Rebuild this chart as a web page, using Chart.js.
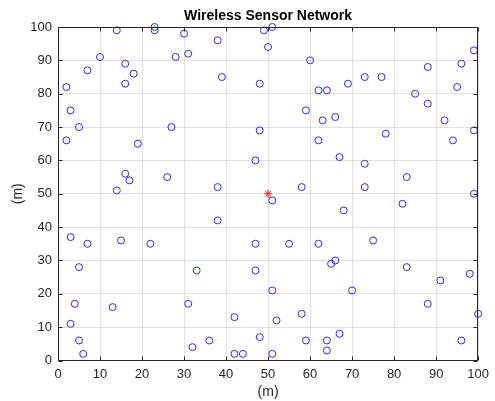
<!DOCTYPE html>
<html>
<head>
<meta charset="utf-8">
<script src="https://cdn.jsdelivr.net/npm/chart.js@4"></script>
<style>
  html, body { margin: 0; padding: 0; background: #ffffff; }
  canvas { display: block; }
</style>
</head>
<body>
<canvas id="wsn" width="495" height="401"></canvas>
<script>
// Sensor node positions (m)
const sensorX = [23, 23, 14, 30, 49, 51, 38, 50, 31, 28,
                 10, 16, 7, 18, 16, 2, 39, 48, 60, 62,
                 64, 69, 73, 77, 88, 96, 99, 95, 85, 88,
                 92, 99, 94, 78, 59, 63, 66, 62, 67, 73,
                 73, 83, 82, 99, 68, 75, 58, 51, 47, 48,
                 27, 5, 3, 2, 19, 16, 17, 14, 26, 38,
                 38, 3, 7, 15, 22, 47, 55, 62, 66, 65,
                 47, 33, 5, 83, 91, 98, 70, 51, 31, 4,
                 13, 3, 5, 6, 32, 36, 42, 42, 44, 48,
                 51, 52, 58, 59, 64, 64, 67, 88, 96, 100];
const sensorY = [100, 99, 99, 98, 99, 100, 96, 94, 92, 91,
                 91, 89, 87, 86, 83, 82, 85, 83, 90, 81,
                 81, 83, 85, 85, 88, 89, 93, 82, 80, 77,
                 72, 69, 66, 68, 75, 72, 73, 66, 61, 59,
                 52, 55, 47, 50, 45, 36, 52, 48, 60, 69,
                 70, 70, 75, 66, 65, 56, 54, 51, 55, 52,
                 42, 37, 35, 36, 35, 35, 35, 35, 30, 29,
                 27, 27, 28, 28, 24, 26, 21, 21, 17, 17,
                 16, 11, 6, 2, 4, 6, 13, 2, 2, 7,
                 2, 12, 14, 6, 6, 3, 8, 17, 6, 14];

// Sink (base station) position
const sinkX = [50];
const sinkY = [50];

// Axis ticks
const tickValues = [0, 10, 20, 30, 40, 50, 60, 70, 80, 90, 100];

const chartTitle = 'Wireless Sensor Network';
const xLabel = '(m)';
const yLabel = '(m)';

const FONT = "'Liberation Sans', Arial, Helvetica, sans-serif";
const INK = '#262626';

const toPoints = (xs, ys) => xs.map((x, i) => ({ x: x, y: ys[i] }));

// Box around the axes, inward tick marks and the title above the plot
const axesFrame = {
  id: 'axesFrame',
  afterDraw(chart) {
    const { ctx, chartArea: a, scales } = chart;
    const L = Math.round(a.left) + 0.5, R = Math.round(a.right) - 0.5;
    const T = Math.round(a.top) + 0.5, B = Math.round(a.bottom) - 0.5;
    const tl = 4;
    ctx.save();
    ctx.strokeStyle = INK;
    ctx.lineWidth = 1;
    ctx.beginPath();
    ctx.rect(L, T, R - L, B - T);
    tickValues.forEach(v => {
      const px = Math.round(scales.x.getPixelForValue(v)) + 0.5;
      ctx.moveTo(px, B); ctx.lineTo(px, B - tl);
      ctx.moveTo(px, T); ctx.lineTo(px, T + tl);
      const py = Math.round(scales.y.getPixelForValue(v)) + 0.5;
      ctx.moveTo(L, py); ctx.lineTo(L + tl, py);
      ctx.moveTo(R, py); ctx.lineTo(R - tl, py);
    });
    ctx.stroke();
    ctx.fillStyle = '#000000';
    ctx.font = 'bold 14px ' + FONT;
    ctx.textAlign = 'center';
    ctx.textBaseline = 'middle';
    ctx.fillText(chartTitle, (a.left + a.right) / 2, 16);
    ctx.restore();
  }
};

new Chart(document.getElementById('wsn'), {
  type: 'scatter',
  data: {
    datasets: [
      {
        label: 'Sensor nodes',
        data: toPoints(sensorX, sensorY),
        pointStyle: 'circle',
        pointRadius: 3.5,
        borderWidth: 1,
        borderColor: 'rgb(45, 45, 200)',
        backgroundColor: 'rgba(0,0,0,0)',
        clip: false
      },
      {
        label: 'Sink',
        data: toPoints(sinkX, sinkY),
        pointStyle: 'star',
        pointRadius: 4,
        borderWidth: 1,
        borderColor: 'rgb(235, 30, 30)',
        backgroundColor: 'rgb(235, 30, 30)',
        clip: false
      }
    ]
  },
  options: {
    responsive: false,
    animation: false,
    devicePixelRatio: 1,
    layout: { padding: { top: 27, right: 14, left: 0, bottom: 0 } },
    plugins: {
      legend: { display: false },
      tooltip: { enabled: false },
      title: { display: false }
    },
    scales: {
      x: {
        type: 'linear',
        min: 0, max: 100,
        afterFit(scale) { scale.height = 40.5; },
        afterBuildTicks(scale) { scale.ticks = tickValues.map(v => ({ value: v })); },
        ticks: {
          autoSkip: false, maxRotation: 0,
          padding: 6,
          color: INK,
          font: { family: FONT, size: 13 }
        },
        grid: { color: 'rgba(0,0,0,0.12)', lineWidth: 1, drawTicks: false },
        border: { display: false },
        title: {
          display: true, text: xLabel, color: INK,
          font: { family: FONT, size: 14 },
          padding: { top: 0, bottom: 0 }
        }
      },
      y: {
        type: 'linear',
        min: 0, max: 100,
        afterFit(scale) { scale.width = 58; },
        afterBuildTicks(scale) { scale.ticks = tickValues.map(v => ({ value: v })); },
        ticks: {
          autoSkip: false,
          padding: 6,
          color: INK,
          font: { family: FONT, size: 13 }
        },
        grid: { color: 'rgba(0,0,0,0.12)', lineWidth: 1, drawTicks: false },
        border: { display: false },
        title: {
          display: true, text: yLabel, color: INK,
          font: { family: FONT, size: 14 },
          padding: { top: 10, bottom: 0 }
        }
      }
    }
  },
  plugins: [axesFrame]
});
</script>
</body>
</html>
